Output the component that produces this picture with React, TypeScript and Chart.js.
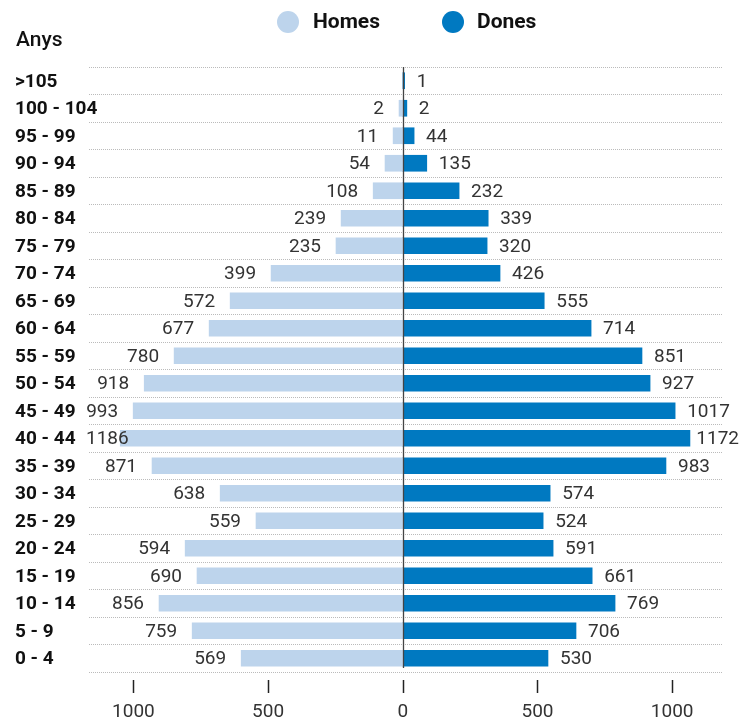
import React, { useEffect, useRef } from "react";
import { Chart, registerables } from "chart.js";

Chart.register(...registerables);

const categories = [
  ">105", "100 - 104", "95 - 99", "90 - 94", "85 - 89", "80 - 84", "75 - 79",
  "70 - 74", "65 - 69", "60 - 64", "55 - 59", "50 - 54", "45 - 49", "40 - 44",
  "35 - 39", "30 - 34", "25 - 29", "20 - 24", "15 - 19", "10 - 14", "5 - 9", "0 - 4",
];

// bar lengths as drawn in the picture
const homesBars = [
  0, 14, 36, 66, 110, 229, 248, 489, 641, 719, 849, 960, 1001, 1049,
  931, 678, 545, 808, 764, 905, 782, 600,
];
const donesBars = [
  7, 15, 42, 89, 209, 317, 313, 361, 525, 699, 888, 918, 1011, 1066,
  977, 547, 521, 558, 703, 788, 643, 539,
];

// value labels printed next to the bars
const homesLabels: (number | null)[] = [
  null, 2, 11, 54, 108, 239, 235, 399, 572, 677, 780, 918, 993, 1186,
  871, 638, 559, 594, 690, 856, 759, 569,
];
const donesLabels: (number | null)[] = [
  1, 2, 44, 135, 232, 339, 320, 426, 555, 714, 851, 927, 1017, 1172,
  983, 574, 524, 591, 661, 769, 706, 530,
];

const xTicks = [-1000, -500, 0, 500, 1000];

const seriesNames = ["Homes", "Dones"];
const seriesColors = ["#bdd4ec", "#0079c1"];
const yTitle = "Anys";

const FONT = "Roboto, 'Noto Sans', sans-serif";

export default function App() {
  const ref = useRef<HTMLCanvasElement | null>(null);

  useEffect(() => {
    document.body.style.margin = "0";
    const canvas = ref.current;
    if (!canvas) return;

    const overlay = {
      id: "overlay",
      afterDatasetsDraw(chart: any) {
        const ctx = chart.ctx;
        const area = chart.chartArea;
        const xs = chart.scales.x;
        const ys = chart.scales.y;
        ctx.save();

        // zero line
        const zx = Math.round(xs.getPixelForValue(0)) + 0.5;
        ctx.strokeStyle = "#444";
        ctx.lineWidth = 1.3;
        ctx.beginPath();
        ctx.moveTo(zx, area.top);
        ctx.lineTo(zx, area.bottom - 4);
        ctx.stroke();

        // x tick marks
        ctx.strokeStyle = "#222";
        ctx.lineWidth = 1.5;
        xTicks.forEach((v) => {
          const px = Math.round(xs.getPixelForValue(v)) + 0.5;
          ctx.beginPath();
          ctx.moveTo(px, area.bottom + 8);
          ctx.lineTo(px, area.bottom + 21);
          ctx.stroke();
        });

        // category labels
        ctx.font = `700 19px ${FONT}`;
        ctx.fillStyle = "#111";
        ctx.textAlign = "left";
        ctx.textBaseline = "middle";
        categories.forEach((c, i) => {
          ctx.fillText(c, 15, ys.getPixelForValue(i) + 1);
        });

        // value labels
        ctx.font = `400 19px ${FONT}`;
        ctx.fillStyle = "#333";
        const m0 = chart.getDatasetMeta(0);
        const m1 = chart.getDatasetMeta(1);
        categories.forEach((_, i) => {
          const hl = homesLabels[i];
          if (hl !== null && hl !== undefined) {
            const el = m0.data[i];
            const txt = String(hl);
            const w = ctx.measureText(txt).width;
            let right = el.x - 15;
            if (right - w < 86) right = 86 + w;
            ctx.textAlign = "right";
            ctx.fillText(txt, right, el.y + 1);
          }
          const dl = donesLabels[i];
          if (dl !== null && dl !== undefined) {
            const el = m1.data[i];
            const txt = String(dl);
            const w = ctx.measureText(txt).width;
            let left = el.x + 12;
            if (left + w > 739) left = 739 - w;
            ctx.textAlign = "left";
            ctx.fillText(txt, left, el.y + 1);
          }
        });

        // legend
        const legendItems = [
          { cx: 288, tx: 313 },
          { cx: 453, tx: 477 },
        ];
        ctx.font = `700 21px ${FONT}`;
        ctx.textAlign = "left";
        legendItems.forEach((it, i) => {
          ctx.fillStyle = seriesColors[i];
          ctx.beginPath();
          ctx.arc(it.cx, 22, 11, 0, Math.PI * 2);
          ctx.fill();
          ctx.fillStyle = "#111";
          ctx.fillText(seriesNames[i], it.tx, 23);
        });

        // axis title
        ctx.font = `500 21px ${FONT}`;
        ctx.fillStyle = "#111";
        ctx.fillText(yTitle, 16, 41);

        ctx.restore();
      },
    };

    const chart = new Chart(canvas, {
      type: "bar",
      data: {
        labels: categories,
        datasets: [
          {
            label: seriesNames[0],
            data: homesBars.map((v) => -v),
            backgroundColor: seriesColors[0],
            barThickness: 16,
          },
          {
            label: seriesNames[1],
            data: donesBars,
            backgroundColor: seriesColors[1],
            barThickness: 16,
          },
        ],
      },
      options: {
        indexAxis: "y",
        responsive: false,
        animation: false,
        layout: { padding: { top: 67, left: 16, right: 18, bottom: 0 } },
        plugins: {
          legend: { display: false },
          tooltip: { enabled: false },
        },
        scales: {
          x: {
            stacked: true,
            min: -1165,
            max: 1185,
            afterBuildTicks: (axis: any) => {
              axis.ticks = xTicks.map((v) => ({ value: v }));
            },
            afterFit: (axis: any) => {
              axis.height = 49;
            },
            grid: { display: false, drawTicks: false },
            border: { display: false },
            ticks: {
              padding: 29,
              color: "#333",
              font: { family: FONT, size: 19, weight: 400 },
              maxRotation: 0,
              callback: (v: any) => String(Math.abs(Number(v))),
            },
          },
          y: {
            stacked: true,
            afterFit: (axis: any) => {
              axis.width = 73;
            },
            grid: {
              offset: true,
              color: "#bbbbbb",
              lineWidth: 1,
              drawTicks: false,
            },
            border: { display: false, dash: [1, 1] },
            ticks: {
              display: false,
            },
          },
        },
      },
      plugins: [overlay],
    });

    return () => chart.destroy();
  }, []);

  return (
    <div style={{ width: 740, height: 721 }}>
      <canvas ref={ref} width={740} height={721} style={{ display: "block" }} />
    </div>
  );
}
